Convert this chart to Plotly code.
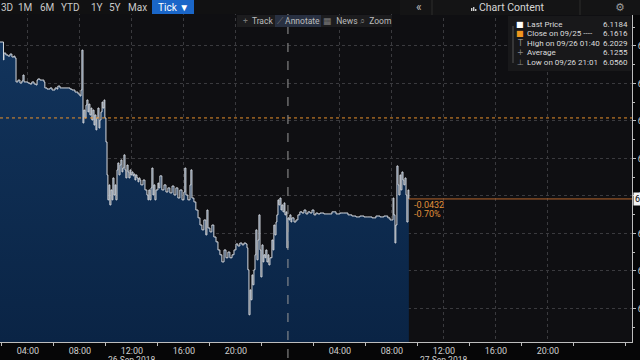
import pandas as pd
import plotly.graph_objects as go

# ---- data (minutes after 2018-09-26 00:00, price) ----
times_min = [111, 125, 127, 129, 138, 148, 157, 166, 175, 180, 185, 194, 203, 212, 217, 222, 231, 240, 249, 258,
             268, 277, 282, 286, 295, 305, 314, 318, 328, 342, 351, 365, 374, 378, 388, 397, 411, 425, 434, 443,
             457, 471, 480, 485, 489, 494, 498, 503, 508, 512, 517, 521, 526, 531, 535, 540, 545, 549, 554, 558,
             563, 568, 572, 577, 582, 586, 591, 595, 600, 605, 609, 614, 618, 623, 628, 632, 637, 642, 646, 651,
             655, 660, 665, 669, 674, 678, 683, 688, 692, 697, 702, 706, 711, 715, 720, 725, 729, 734, 738, 743,
             748, 752, 757, 761, 771, 780, 789, 794, 798, 803, 808, 812, 817, 821, 826, 831, 840, 844, 849, 858,
             868, 877, 886, 895, 905, 914, 923, 932, 941, 951, 960, 964, 969, 978, 988, 992, 997, 1006, 1015, 1025,
             1034, 1043, 1052, 1061, 1066, 1071, 1080, 1089, 1098, 1108, 1117, 1126, 1135, 1145, 1154, 1163, 1172, 1182, 1191, 1200,
             1209, 1218, 1228, 1237, 1246, 1251, 1255, 1260, 1265, 1269, 1274, 1278, 1283, 1288, 1292, 1297, 1302, 1306, 1311, 1315,
             1320, 1325, 1329, 1334, 1338, 1343, 1348, 1352, 1357, 1366, 1371, 1375, 1380, 1385, 1389, 1394, 1398, 1403, 1408, 1412,
             1417, 1422, 1426, 1431, 1435, 1440, 1445, 1449, 1454, 1458, 1468, 1477, 1486, 1495, 1505, 1514, 1523, 1532, 1542, 1551,
             1560, 1569, 1578, 1588, 1606, 1625, 1643, 1662, 1680, 1698, 1717, 1735, 1754, 1772, 1791, 1809, 1828, 1846, 1865, 1883,
             1901, 1911, 1920, 1925, 1929, 1934, 1938, 1943, 1948, 1952, 1957, 1961, 1966, 1971, 1975, 1980, 1985, 1989, 1994, 1998]
prices = [6.2021, 6.2021, 6.1925, 6.1962, 6.1952, 6.1946, 6.1957, 6.1941, 6.1946, 6.1936, 6.1808, 6.1818, 6.1802, 6.1813, 6.1845, 6.1808, 6.1808, 6.1802, 6.1797, 6.1808,
          6.1797, 6.1792, 6.1818, 6.1824, 6.1818, 6.1818, 6.1808, 6.1776, 6.1770, 6.1776, 6.1765, 6.1776, 6.1770, 6.1786, 6.1776, 6.1776, 6.1776, 6.1776, 6.1770, 6.1765,
          6.1754, 6.1744, 6.1733, 6.1765, 6.1978, 6.1589, 6.1658, 6.1616, 6.1685, 6.1712, 6.1648, 6.1690, 6.1632, 6.1669, 6.1605, 6.1658, 6.1578, 6.1632, 6.1552, 6.1616,
          6.1669, 6.1562, 6.1605, 6.1648, 6.1701, 6.1669, 6.1712, 6.1616, 6.1488, 6.1312, 6.1179, 6.1259, 6.1152, 6.1232, 6.1179, 6.1296, 6.1205, 6.1259, 6.1179, 6.1339,
          6.1376, 6.1312, 6.1365, 6.1392, 6.1328, 6.1349, 6.1419, 6.1339, 6.1296, 6.1365, 6.1328, 6.1296, 6.1339, 6.1312, 6.1328, 6.1307, 6.1317, 6.1285, 6.1312, 6.1296,
          6.1275, 6.1296, 6.1285, 6.1259, 6.1285, 6.1232, 6.1205, 6.1179, 6.1232, 6.1179, 6.1243, 6.1349, 6.1205, 6.1259, 6.1179, 6.1232, 6.1269, 6.1243, 6.1307, 6.1232,
          6.1259, 6.1221, 6.1243, 6.1216, 6.1253, 6.1205, 6.1243, 6.1189, 6.1232, 6.1179, 6.1221, 6.1349, 6.1205, 6.1179, 6.1259, 6.1339, 6.1189, 6.1168, 6.1125, 6.1083,
          6.1045, 6.1019, 6.1072, 6.0992, 6.1125, 6.1029, 6.1008, 6.1045, 6.0981, 6.0955, 6.0912, 6.0886, 6.0848, 6.0912, 6.0870, 6.0901, 6.0870, 6.0886, 6.0912, 6.0944,
          6.0933, 6.0949, 6.0939, 6.0949, 6.0944, 6.0923, 6.0806, 6.0566, 6.0699, 6.0646, 6.0779, 6.0726, 6.0806, 6.0886, 6.1019, 6.0859, 6.0965, 6.1099, 6.0912, 6.0768,
          6.0939, 6.0848, 6.0886, 6.0870, 6.0912, 6.0848, 6.0886, 6.0832, 6.0870, 6.0965, 6.0912, 6.1045, 6.0992, 6.1061, 6.1099, 6.1179, 6.1152, 6.1189, 6.1125, 6.1152,
          6.1115, 6.1163, 6.1099, 6.1115, 6.0923, 6.1083, 6.1072, 6.1099, 6.1061, 6.1083, 6.1061, 6.1072, 6.1099, 6.1115, 6.1109, 6.1125, 6.1104, 6.1115, 6.1109, 6.1125,
          6.1099, 6.1109, 6.1104, 6.1109, 6.1104, 6.1104, 6.1115, 6.1104, 6.1109, 6.1109, 6.1099, 6.1093, 6.1088, 6.1093, 6.1088, 6.1088, 6.1083, 6.1093, 6.1088, 6.1093,
          6.1083, 6.1072, 6.1072, 6.1189, 6.1099, 6.0949, 6.1045, 6.1360, 6.1259, 6.1205, 6.1312, 6.1232, 6.1328, 6.1285, 6.1259, 6.1296, 6.1205, 6.1061, 6.1232, 6.1184]

close_prev = 6.1616
last_price = 6.1184

tick_vals = ["2018-09-26 04:00", "2018-09-26 08:00", "2018-09-26 12:00", "2018-09-26 16:00", "2018-09-26 20:00",
             "2018-09-27 04:00", "2018-09-27 08:00", "2018-09-27 12:00", "2018-09-27 16:00", "2018-09-27 20:00"]
tick_text = ["04:00", "08:00", "12:00", "16:00", "20:00", "04:00", "08:00", "12:00", "16:00", "20:00"]
date_labels = [("2018-09-26 12:00", "26 Sep 2018"), ("2018-09-27 12:00", "27 Sep 2018")]
legend_rows = [("Last Price", "6.1184"), ("Close on 09/25 ----", "6.1616"), ("High on 09/26 01:40", "6.2029"),
               ("Average", "6.1255"), ("Low on 09/26 21:01", "6.0560")]
range_buttons = ["3D", "1M", "6M", "YTD", "1Y", "5Y", "Max"]

base = pd.Timestamp("2018-09-26")
t = base + pd.to_timedelta(times_min, unit="min")
x_range = ["2018-09-26 01:51", "2018-09-28 02:28"]
y_range = [6.0421, 6.2245]

FONT = "Roboto"
W, H = 640, 360
ML, MR, MT, MB = 0, 8, 0, 18
PW, PH = W - ML - MR, H - MT - MB


def px(xp):
    return (xp - ML) / PW


def py(yp):
    return 1 - (yp - MT) / PH


fig = go.Figure()
fig.add_trace(go.Scatter(
    x=t, y=prices, mode="lines", line=dict(color="#d6dae0", width=1, shape="hv"),
    fill="tozeroy",
    fillgradient=dict(type="vertical", start=y_range[0], stop=6.205,
                      colorscale=[[0, "#0a2445"], [1, "#12345c"]]),
    hoverinfo="skip", showlegend=False))

shapes = []
ann = []

# close line (dotted orange)
shapes.append(dict(type="line", xref="paper", yref="y", x0=0, x1=1, y0=close_prev, y1=close_prev,
                   line=dict(color="#e8902c", width=1, dash="dot")))
# last price line
shapes.append(dict(type="line", xref="x", yref="y", x0=t[-1], x1=x_range[1], y0=last_price, y1=last_price,
                   line=dict(color="#b9682e", width=1)))
# day separator
shapes.append(dict(type="line", xref="x", yref="paper", x0="2018-09-27 00:00", x1="2018-09-27 00:00",
                   y0=py(358), y1=1, line=dict(color="#9a9a9a", width=1, dash="dash")))

chg = last_price - close_prev
pct = chg / close_prev * 100
ann.append(dict(x=t[-1], y=last_price, xref="x", yref="y", text=f"{chg:.4f}", showarrow=False,
                xanchor="left", yanchor="middle", xshift=3, yshift=-6,
                font=dict(family=FONT, size=9, color="#e0913a")))
ann.append(dict(x=t[-1], y=last_price, xref="x", yref="y", text=f"{pct:.2f}%", showarrow=False,
                xanchor="left", yanchor="middle", xshift=3, yshift=-15,
                font=dict(family=FONT, size=9, color="#e0913a")))
ann.append(dict(x=1, y=last_price, xref="paper", yref="y", text=f"{last_price:.4f}", showarrow=False,
                xanchor="left", yanchor="middle", xshift=1, bgcolor="#f2f2f2", borderpad=1,
                font=dict(family=FONT, size=9, color="#000000")))

for xv, txt in date_labels:
    ann.append(dict(x=xv, y=py(352.5), xref="x", yref="paper", text=txt, showarrow=False,
                    xanchor="center", yanchor="top", font=dict(family=FONT, size=8.5, color="#cfcfcf")))

# ---- top toolbar row 1 ----
shapes.append(dict(type="rect", xref="paper", yref="paper", x0=px(0), x1=px(400), y0=py(14), y1=py(0),
                   fillcolor="#111112", line=dict(width=0), layer="above"))
shapes.append(dict(type="rect", xref="paper", yref="paper", x0=px(152), x1=px(194), y0=py(14), y1=py(0),
                   fillcolor="#1a66c8", line=dict(width=0), layer="above"))
btn_x = [7, 25, 47, 70, 97, 115, 137]
for b, xb in zip(range_buttons, btn_x):
    ann.append(dict(x=px(xb), y=py(7), xref="paper", yref="paper", text=b, showarrow=False,
                    xanchor="center", yanchor="middle", font=dict(family=FONT, size=10, color="#c9c9c9")))
ann.append(dict(x=px(173), y=py(7), xref="paper", yref="paper", text="Tick ▼", showarrow=False,
                xanchor="center", yanchor="middle", font=dict(family=FONT, size=10, color="#ffffff")))

# header panel right
shapes.append(dict(type="rect", xref="paper", yref="paper", x0=px(400), x1=px(640), y0=py(15), y1=py(0),
                   fillcolor="#141415", line=dict(width=0), layer="above"))
for sx in [432, 580]:
    shapes.append(dict(type="line", xref="paper", yref="paper", x0=px(sx), x1=px(sx), y0=py(15), y1=py(0),
                       line=dict(color="#2c2c2c", width=1), layer="above"))
ann.append(dict(x=px(419), y=py(7), xref="paper", yref="paper", text="«", showarrow=False,
                xanchor="center", yanchor="middle", font=dict(family=FONT, size=12, color="#bdbdbd")))
# small chart icon
for bx, bh in [(471, 3), (473, 4), (475, 2)]:
    shapes.append(dict(type="rect", xref="paper", yref="paper", x0=px(bx), x1=px(bx + 1.4), y0=py(11), y1=py(11 - bh),
                       fillcolor="#cfcfcf", line=dict(width=0), layer="above"))
ann.append(dict(x=px(477), y=py(7), xref="paper", yref="paper", text="Chart Content", showarrow=False,
                xanchor="left", yanchor="middle", font=dict(family=FONT, size=10.5, color="#d6d6d6")))
ann.append(dict(x=px(620), y=py(7), xref="paper", yref="paper", text="⚙", showarrow=False,
                xanchor="center", yanchor="middle", font=dict(family="DejaVu Sans", size=11, color="#9a9a9a")))

# toolbar row 2
shapes.append(dict(type="rect", xref="paper", yref="paper", x0=px(237), x1=px(392), y0=py(27), y1=py(15),
                   fillcolor="#1c1c1e", line=dict(width=0), layer="above"))
shapes.append(dict(type="rect", xref="paper", yref="paper", x0=px(275), x1=px(321), y0=py(27), y1=py(15),
                   fillcolor="#283041", line=dict(width=0), layer="above"))
tools = [(258, "<span style='color:#777'>+</span>  Track"), (298, "<span style='color:#777'>⟋</span> Annotate"),
         (340, "<span style='color:#777'>▦</span>  News"), (375, "<span style='color:#777'>⌕</span>  Zoom")]
for xt, txt in tools:
    ann.append(dict(x=px(xt), y=py(21), xref="paper", yref="paper", text=txt, showarrow=False,
                    xanchor="center", yanchor="middle", font=dict(family=FONT, size=8.5, color="#bdbdbd")))

# legend panel
shapes.append(dict(type="rect", xref="paper", yref="paper", x0=px(508), x1=px(631), y0=py(71), y1=py(16),
                   fillcolor="#18181a", line=dict(width=0), layer="above"))
shapes.append(dict(type="line", xref="paper", yref="paper", x0=px(513), x1=px(513), y0=py(63), y1=py(26),
                   line=dict(color="#555", width=1), layer="above"))
row_y = [25, 34, 43, 52, 62]
icons = [("■", "#ffffff"), ("■", "#f0961e"), ("T", "#8a8a8a"), ("+", "#8a8a8a"), ("⊥", "#8a8a8a")]
for (lab, val), yr, (ic, icc) in zip(legend_rows, row_y, icons):
    ann.append(dict(x=px(520), y=py(yr), xref="paper", yref="paper", text=ic, showarrow=False,
                    xanchor="center", yanchor="middle", font=dict(family="DejaVu Sans", size=8, color=icc)))
    ann.append(dict(x=px(525), y=py(yr), xref="paper", yref="paper", text=lab, showarrow=False,
                    xanchor="left", yanchor="middle", font=dict(family=FONT, size=8, color="#dcdcdc")))
    ann.append(dict(x=px(630), y=py(yr), xref="paper", yref="paper", text=val, showarrow=False,
                    xanchor="right", yanchor="middle", font=dict(family=FONT, size=8, color="#dcdcdc")))

fig.update_layout(
    width=W, height=H, margin=dict(l=ML, r=MR, t=MT, b=MB),
    paper_bgcolor="#060607", plot_bgcolor="#0f0f12",
    shapes=shapes, annotations=ann, showlegend=False,
    xaxis=dict(range=x_range, tickmode="array", tickvals=tick_vals, ticktext=tick_text,
               showgrid=True, gridcolor="#3a3a3e", griddash="dot", gridwidth=1,
               ticks="", showline=True, linecolor="#bdbdbd", linewidth=1, zeroline=False,
               tickfont=dict(family=FONT, size=9, color="#cfcfcf"), automargin=False,
               minor=dict(tickmode="linear", tick0="2018-09-26 02:00", dtick=4 * 3600 * 1000,
                          ticks="outside", ticklen=3, tickcolor="#bdbdbd", showgrid=False)),
    yaxis=dict(range=y_range, side="right", dtick=0.02, tick0=6.0, showgrid=True, gridcolor="#3a3a3e",
               griddash="dot", ticks="outside", ticklen=3, tickcolor="#bdbdbd", showline=True,
               linecolor="#bdbdbd", zeroline=False, automargin=False, tickformat=".2f",
               tickfont=dict(family=FONT, size=9, color="#cfcfcf"),
               minor=dict(dtick=0.01, ticks="outside", ticklen=2, tickcolor="#bdbdbd", showgrid=False)),
)

fig.write_html("out.html")
